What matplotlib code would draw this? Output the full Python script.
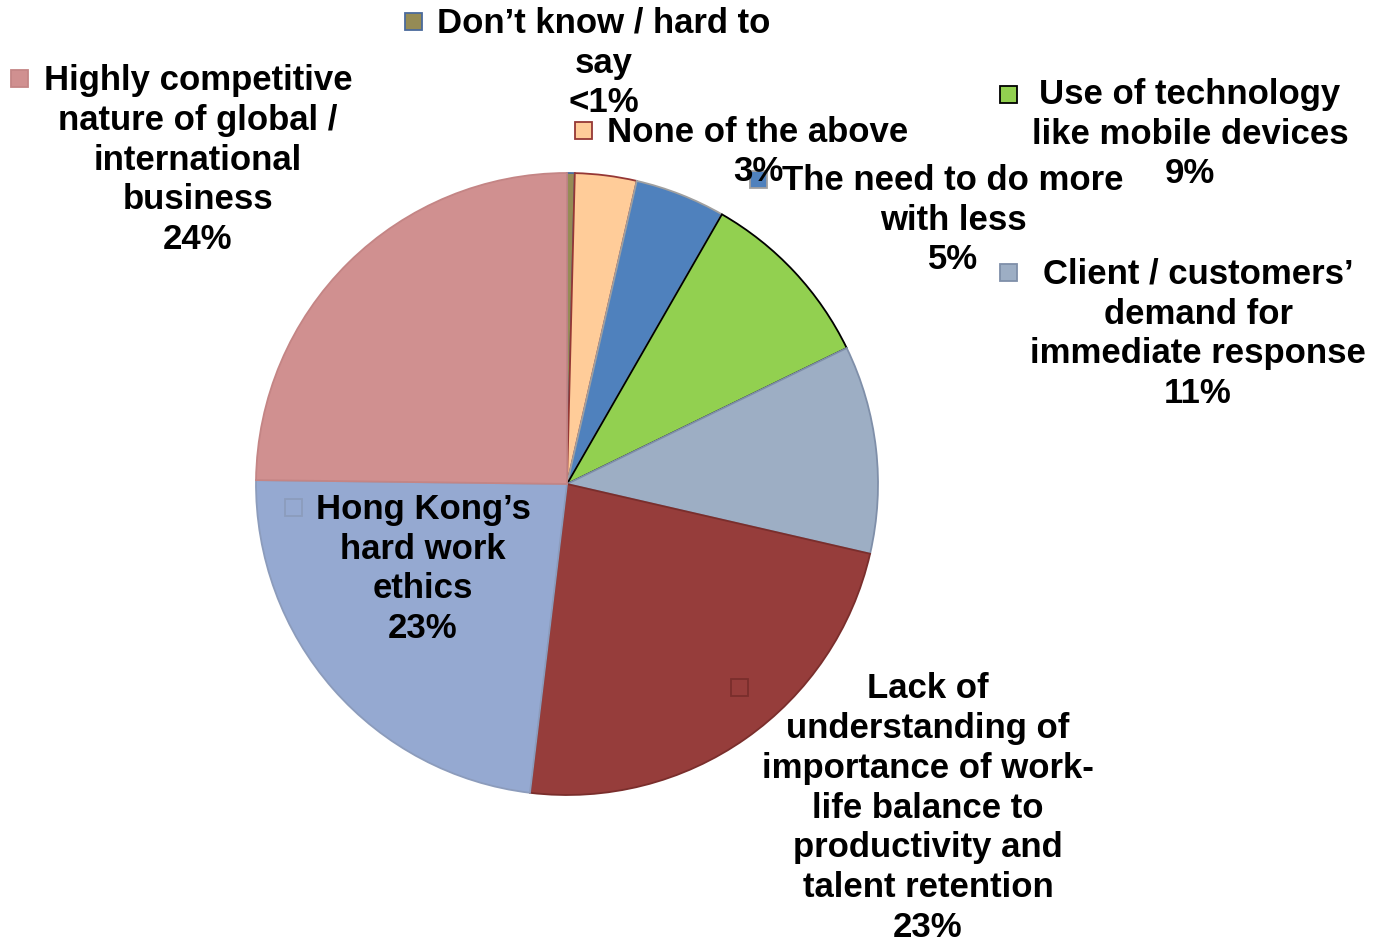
import matplotlib
matplotlib.use('Agg')
import matplotlib.pyplot as plt
from matplotlib.patches import Rectangle

# slices, clockwise from 12 o'clock
categories = ["Don\u2019t know / hard to\nsay",
              "None of the above",
              "The need to do more\nwith less",
              "Use of technology\nlike mobile devices",
              "Client / customers\u2019\ndemand for\nimmediate response",
              "Lack of\nunderstanding of\nimportance of work-\nlife balance to\nproductivity and\ntalent retention",
              "Hong Kong\u2019s\nhard work\nethics",
              "Highly competitive\nnature of global /\ninternational\nbusiness"]
values = [0.4, 3.2, 4.7, 9.5, 10.8, 23.3, 23.3, 24.8]
pct_labels = ["<1%", "3%", "5%", "9%", "11%", "23%", "23%", "24%"]

colors = ['#958B55', '#FFCC99', '#4F81BD', '#92D050', '#9DAEC4', '#963D3B', '#95A9D1', '#D09090']
edges = ['#4A6A9C', '#953735', '#A0A0A0', '#000000', '#7F8FA9', '#7A2E2C', '#8C9CBC', '#C48585']

W, H = 1375, 951
fig = plt.figure(figsize=(W / 100, H / 100), dpi=100)

# pie centre (567, 484) px, radius 311 px
cx, cy, r = 567, 484, 311
ax = fig.add_axes([(cx - r) / W, (H - cy - r) / H, 2 * r / W, 2 * r / H])
wedges, _ = ax.pie(values, colors=colors, startangle=90, counterclock=False,
                   radius=1.0, wedgeprops=dict(linewidth=1.3))
for w, e in zip(wedges, edges):
    w.set_edgecolor(e)
ax.set_xlim(-1, 1)
ax.set_ylim(-1, 1)
ax.set_aspect('equal')
ax.axis('off')

# label layout: text centre (x, y) and marker top-left, in pixels from top-left
text_pos = [(604, 63), (758, 152), (953, 220), (1190, 134),
            (1198, 334), (928, 808), (423, 569), (198, 160)]
marker_pos = [(405, 13), (575, 122), (750, 171), (1000, 86),
              (1000, 264), (731, 679), (285, 499), (11, 70)]

fnt = dict(family='Liberation Sans', weight='bold', size=25)
for i in range(len(categories)):
    tx, ty = text_pos[i]
    fig.text(tx / W, 1 - ty / H, categories[i] + "\n" + pct_labels[i],
             ha='center', va='center', multialignment='center',
             linespacing=1.265, color='black', **fnt)
    mx, my = marker_pos[i]
    fig.add_artist(Rectangle((mx / W, 1 - (my + 17) / H), 17 / W, 17 / H,
                             transform=fig.transFigure, facecolor=colors[i],
                             edgecolor=edges[i], linewidth=1.3))

fig.savefig('out.png', dpi=100, facecolor='white')
